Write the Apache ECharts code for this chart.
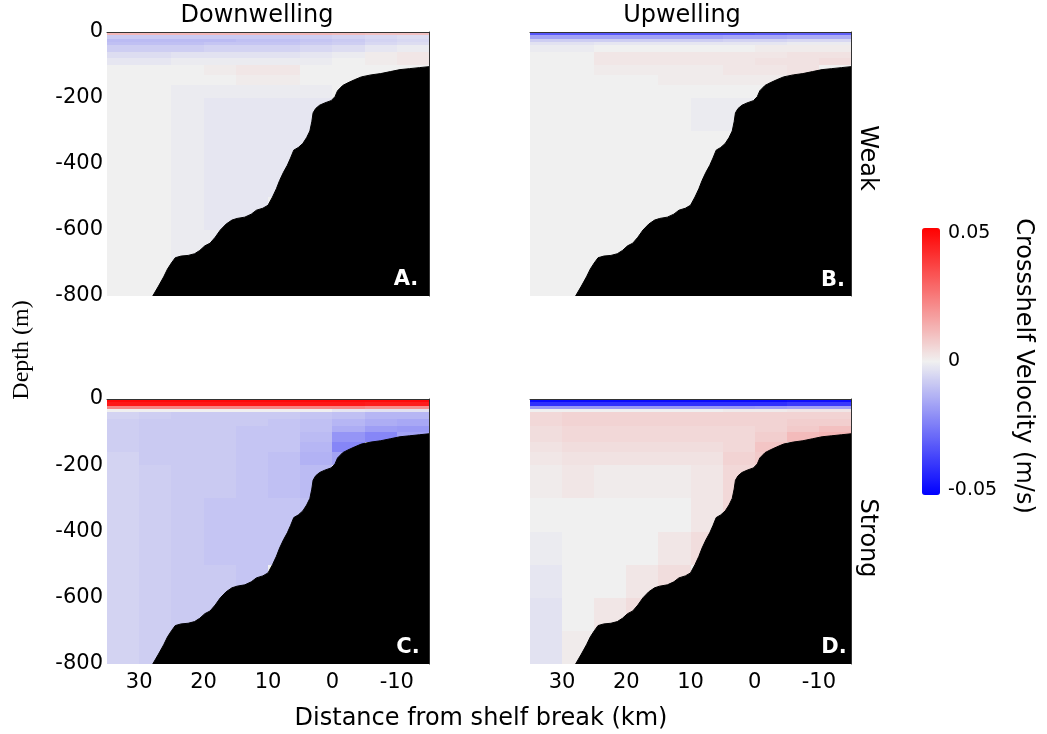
<!DOCTYPE html>
<html>
<head>
<meta charset="utf-8">
<title>Crossshelf velocity</title>
<script src="https://cdn.jsdelivr.net/npm/echarts@6/dist/echarts.min.js"></script>
<style>
  html, body { margin: 0; padding: 0; background: #fff; }
  #chart { width: 1047px; height: 734px; }
</style>
</head>
<body>
<div id="chart"></div>
<script>
// cell edges of the velocity field (km from shelf break, depth in m)
const distEdges = [35, 30, 25, 20, 15, 10, 5, 0, -5, -10, -15]
const depthEdges = [0, -10, -20, -30, -40, -60, -80, -100, -130, -160, -200, -300, -400, -500, -600, -700, -800]

// crossshelf velocity (m/s), one row per depth layer, one column per distance bin
const velWeakDown = [
    [0.012, 0.012, 0.012, 0.012, 0.012, 0.012, 0.012, 0.011, 0.010, 0.010],
    [-0.008, -0.008, -0.008, -0.008, -0.008, -0.008, -0.007, -0.006, -0.005, -0.004],
    [-0.011, -0.011, -0.011, -0.011, -0.010, -0.010, -0.009, -0.008, -0.006, -0.005],
    [-0.010, -0.010, -0.010, -0.009, -0.009, -0.009, -0.008, -0.007, -0.005, -0.004],
    [-0.007, -0.007, -0.007, -0.006, -0.006, -0.006, -0.005, -0.004, -0.002, -0.001],
    [-0.004, -0.004, -0.003, -0.003, -0.003, -0.003, -0.002, -0.001, 0.001, 0.002],
    [-0.002, -0.002, -0.001, -0.001, -0.001, -0.001, -0.001, 0.000, 0.001, 0.002],
    [0.000, 0.000, 0.000, 0.001, 0.002, 0.002, 0.000, 0.000, 0.000, 0.000],
    [0.000, 0.000, 0.000, 0.000, 0.001, 0.001, 0.000, 0.000, 0.000, 0.000],
    [0.000, 0.000, -0.001, -0.001, -0.001, -0.001, -0.001, 0.000, 0.000, 0.000],
    [0.000, 0.000, -0.001, -0.002, -0.002, -0.002, -0.002, 0.000, 0.000, 0.000],
    [0.000, 0.000, -0.001, -0.002, -0.002, -0.002, -0.002, 0.000, 0.000, 0.000],
    [0.000, 0.000, -0.001, -0.002, -0.002, -0.002, 0.000, 0.000, 0.000, 0.000],
    [0.000, 0.000, -0.001, -0.002, -0.002, 0.000, 0.000, 0.000, 0.000, 0.000],
    [0.000, 0.000, -0.001, -0.001, 0.000, 0.000, 0.000, 0.000, 0.000, 0.000],
    [0.000, 0.000, -0.001, 0.000, 0.000, 0.000, 0.000, 0.000, 0.000, 0.000]
]
const velWeakUp = [
    [-0.032, -0.032, -0.032, -0.032, -0.032, -0.032, -0.032, -0.031, -0.030, -0.030],
    [-0.016, -0.016, -0.016, -0.016, -0.016, -0.016, -0.015, -0.015, -0.014, -0.014],
    [-0.007, -0.007, -0.007, -0.007, -0.007, -0.007, -0.006, -0.006, -0.005, -0.005],
    [-0.003, -0.003, -0.002, -0.002, -0.002, -0.002, -0.002, -0.002, -0.001, -0.001],
    [-0.001, -0.001, 0.000, 0.000, 0.000, 0.000, 0.000, 0.001, 0.001, 0.001],
    [0.000, 0.000, 0.002, 0.002, 0.002, 0.002, 0.002, 0.002, 0.003, 0.003],
    [0.000, 0.000, 0.002, 0.002, 0.002, 0.002, 0.002, 0.003, 0.003, 0.004],
    [0.000, 0.000, 0.001, 0.001, 0.001, 0.001, 0.002, 0.002, 0.003, 0.000],
    [0.000, 0.000, 0.000, 0.000, 0.001, 0.001, 0.001, 0.001, 0.000, 0.000],
    [0.000, 0.000, 0.000, 0.000, 0.000, 0.000, 0.000, 0.000, 0.000, 0.000],
    [0.000, 0.000, 0.000, 0.000, 0.000, -0.001, -0.001, 0.000, 0.000, 0.000],
    [0.000, 0.000, 0.000, 0.000, 0.000, 0.000, 0.000, 0.000, 0.000, 0.000],
    [0.000, 0.000, 0.000, 0.000, 0.000, 0.000, 0.000, 0.000, 0.000, 0.000],
    [0.000, 0.000, 0.000, 0.000, 0.000, 0.000, 0.000, 0.000, 0.000, 0.000],
    [0.000, 0.000, 0.000, 0.000, 0.000, 0.000, 0.000, 0.000, 0.000, 0.000],
    [0.000, 0.000, 0.000, 0.000, 0.000, 0.000, 0.000, 0.000, 0.000, 0.000]
]
const velStrongDown = [
    [0.048, 0.048, 0.048, 0.048, 0.048, 0.048, 0.048, 0.048, 0.048, 0.048],
    [0.045, 0.045, 0.045, 0.045, 0.045, 0.045, 0.045, 0.045, 0.044, 0.044],
    [0.022, 0.022, 0.022, 0.022, 0.022, 0.022, 0.022, 0.022, 0.020, 0.020],
    [0.000, 0.000, 0.000, 0.000, 0.000, 0.000, 0.000, -0.002, -0.003, -0.003],
    [-0.006, -0.007, -0.008, -0.008, -0.008, -0.008, -0.009, -0.010, -0.012, -0.012],
    [-0.007, -0.008, -0.008, -0.008, -0.008, -0.009, -0.010, -0.012, -0.014, -0.015],
    [-0.007, -0.008, -0.008, -0.008, -0.009, -0.009, -0.010, -0.014, -0.017, -0.018],
    [-0.007, -0.008, -0.008, -0.008, -0.009, -0.009, -0.011, -0.019, -0.022, -0.016],
    [-0.007, -0.008, -0.008, -0.008, -0.009, -0.009, -0.012, -0.022, 0.000, 0.000],
    [-0.006, -0.008, -0.008, -0.008, -0.009, -0.010, -0.013, -0.016, 0.000, 0.000],
    [-0.006, -0.007, -0.008, -0.008, -0.009, -0.010, -0.011, 0.000, 0.000, 0.000],
    [-0.006, -0.007, -0.008, -0.009, -0.009, -0.009, -0.010, 0.000, 0.000, 0.000],
    [-0.006, -0.007, -0.008, -0.009, -0.009, -0.009, 0.000, 0.000, 0.000, 0.000],
    [-0.006, -0.007, -0.008, -0.008, -0.009, 0.000, 0.000, 0.000, 0.000, 0.000],
    [-0.006, -0.007, -0.008, -0.008, 0.000, 0.000, 0.000, 0.000, 0.000, 0.000],
    [-0.006, -0.007, -0.008, 0.000, 0.000, 0.000, 0.000, 0.000, 0.000, 0.000]
]
const velStrongUp = [
    [-0.048, -0.048, -0.048, -0.048, -0.048, -0.048, -0.048, -0.048, -0.047, -0.047],
    [-0.040, -0.040, -0.040, -0.040, -0.040, -0.040, -0.040, -0.040, -0.038, -0.038],
    [-0.018, -0.018, -0.018, -0.018, -0.018, -0.018, -0.018, -0.017, -0.016, -0.016],
    [0.000, 0.000, 0.000, 0.000, 0.000, 0.000, 0.001, 0.001, 0.002, 0.002],
    [0.005, 0.006, 0.006, 0.006, 0.006, 0.006, 0.006, 0.006, 0.006, 0.006],
    [0.005, 0.006, 0.006, 0.006, 0.006, 0.006, 0.006, 0.006, 0.007, 0.007],
    [0.004, 0.005, 0.005, 0.005, 0.005, 0.005, 0.005, 0.006, 0.008, 0.010],
    [0.004, 0.005, 0.005, 0.005, 0.005, 0.005, 0.005, 0.007, 0.011, 0.012],
    [0.003, 0.004, 0.004, 0.004, 0.004, 0.004, 0.005, 0.009, 0.000, 0.000],
    [0.002, 0.003, 0.003, 0.003, 0.003, 0.003, 0.006, 0.008, 0.000, 0.000],
    [0.001, 0.002, 0.001, 0.001, 0.001, 0.002, 0.005, 0.000, 0.000, 0.000],
    [0.000, 0.000, 0.000, 0.000, 0.000, 0.002, 0.005, 0.000, 0.000, 0.000],
    [-0.001, 0.000, 0.000, 0.000, 0.002, 0.004, 0.000, 0.000, 0.000, 0.000],
    [-0.002, 0.000, 0.000, 0.002, 0.004, 0.000, 0.000, 0.000, 0.000, 0.000],
    [-0.003, 0.000, 0.002, 0.004, 0.000, 0.000, 0.000, 0.000, 0.000, 0.000],
    [-0.003, 0.001, 0.000, 0.000, 0.000, 0.000, 0.000, 0.000, 0.000, 0.000]
]

// bathymetry profile (same in all panels)
const bathyKm = [27.9, 27.0, 26.2, 25.6, 25.0, 24.4, 23.5, 22.4, 21.4, 20.6, 19.8, 19.0, 18.2, 17.4, 16.5, 15.6, 14.8, 13.6, 12.6, 11.8, 10.8, 10.0, 9.3, 8.7, 8.2, 7.6, 7.0, 6.5, 6.0, 5.3, 4.6, 4.0, 3.5, 3.2, 3.0, 2.6, 2.0, 1.2, 0.2, -0.4, -0.8, -1.6, -2.4, -3.4, -4.5, -6.0, -7.5, -9.0, -10.5, -12.0, -13.5, -15.0]
const bathyDepth = [-800, -770, -742, -718, -700, -684, -679, -677, -672, -662, -648, -640, -622, -600, -582, -570, -565, -561, -552, -540, -534, -525, -500, -475, -450, -425, -404, -382, -358, -350, -338, -320, -300, -272, -245, -232, -222, -215, -208, -196, -178, -162, -154, -145, -136, -130, -126, -120, -114, -111, -108, -105]

const xTicks = [30, 20, 10, 0, -10]
const panelTitles = ['Downwelling', 'Upwelling']
const rowTitles = ['Weak', 'Strong']
const panelLetters = ['A.', 'B.', 'C.', 'D.']

const fields = [velWeakDown, velWeakUp, velStrongDown, velStrongUp]
const grids = [
    { left: 107, top: 32, width: 322, height: 264 },
    { left: 530, top: 32, width: 321, height: 264 },
    { left: 107, top: 399, width: 322, height: 265 },
    { left: 530, top: 399, width: 321, height: 265 },
    { left: 922, top: 233, width: 18, height: 257 }
]

const font = 'DejaVu Sans'

const toCells = vals => {
    const cells = []
    vals.forEach((row, r) => {
        row.forEach((v, c) => {
            cells.push([distEdges[c], distEdges[c + 1], depthEdges[r], depthEdges[r + 1], v])
        })
    })
    return cells
}

const renderCell = (params, api) => {
    const p0 = api.coord([api.value(0), api.value(2)])
    const p1 = api.coord([api.value(1), api.value(3)])
    const x0 = Math.round(Math.min(p0[0], p1[0]))
    const x1 = Math.round(Math.max(p0[0], p1[0]))
    const y0 = Math.round(Math.min(p0[1], p1[1]))
    const y1 = Math.round(Math.max(p0[1], p1[1]))
    return {
        type: 'rect',
        shape: { x: x0, y: y0, width: x1 - x0, height: y1 - y0 },
        style: { fill: api.visual('color') }
    }
}

const xAxes = []
const yAxes = []
const series = []
for (let i = 0; i < 4; i++) {
    xAxes.push({
        gridIndex: i, type: 'value', min: -15, max: 35, inverse: true, position: 'bottom',
        axisLine: { show: false, onZero: false }, axisTick: { show: false }, splitLine: { show: false },
        axisLabel: { show: i >= 2, customValues: xTicks, fontSize: 21, fontFamily: font, color: '#000', margin: 8 }
    })
    yAxes.push({
        gridIndex: i, type: 'value', min: -800, max: 0, interval: 200,
        axisLine: { show: false, onZero: false }, axisTick: { show: false }, splitLine: { show: false },
        axisLabel: { show: i % 2 === 0, fontSize: 21, fontFamily: font, color: '#000', margin: 4 }
    })
}
// top / right frame lines
for (let i = 0; i < 4; i++) {
    xAxes.push({
        gridIndex: i, type: 'value', min: -15, max: 35, inverse: true, position: 'top', z: 10,
        axisLine: { show: true, onZero: false, lineStyle: { color: '#333', width: 1 } },
        axisTick: { show: false }, axisLabel: { show: false }, splitLine: { show: false }
    })
    yAxes.push({
        gridIndex: i, type: 'value', min: -800, max: 0, position: 'right', z: 10,
        axisLine: { show: true, onZero: false, lineStyle: { color: '#333', width: 1 } },
        axisTick: { show: false }, axisLabel: { show: false }, splitLine: { show: false }
    })
}
// colorbar tick axis
xAxes.push({ gridIndex: 4, type: 'value', min: 0, max: 1, show: false })
yAxes.push({
    gridIndex: 4, type: 'value', min: -0.05, max: 0.05, interval: 0.05, position: 'right',
    axisLine: { show: false, onZero: false }, axisTick: { show: false }, splitLine: { show: false },
    axisLabel: {
        fontSize: 19, fontFamily: font, color: '#000', margin: 8,
        formatter: v => (Math.abs(v) < 1e-9 ? '0' : v.toFixed(2))
    }
})

for (let i = 0; i < 4; i++) {
    series.push({
        type: 'custom', xAxisIndex: i, yAxisIndex: i, silent: true, z: 2,
        renderItem: renderCell, data: toCells(fields[i])
    })
}
for (let i = 0; i < 4; i++) {
    series.push({
        type: 'line', xAxisIndex: i, yAxisIndex: i, silent: true, z: 3, symbol: 'none',
        lineStyle: { color: '#000', width: 1 },
        areaStyle: { color: '#000', opacity: 1, origin: 'start' },
        data: bathyKm.map((k, j) => [k, bathyDepth[j]])
    })
}

const txt = (text, x, y, size, extra) => Object.assign({
    type: 'text', x: x, y: y, z: 100,
    style: { text: text, font: size + 'px "' + font + '"', fill: '#000', textAlign: 'center', textVerticalAlign: 'middle' }
}, extra || {})

const graphics = [
    txt(panelTitles[0], 257, 16, 24),
    txt(panelTitles[1], 682, 16, 24),
    txt(rowTitles[0], 867, 158, 24, { rotation: -Math.PI / 2 }),
    txt(rowTitles[1], 867, 538, 24, { rotation: -Math.PI / 2 }),
    txt('Distance from shelf break (km)', 481, 719, 24),
    txt('Crossshelf Velocity (m/s)', 1023, 366, 24, { rotation: -Math.PI / 2 }),
    {
        type: 'text', x: 22, y: 350, z: 100, rotation: Math.PI / 2,
        style: { text: 'Depth (m)', font: '24px "Liberation Serif"', fill: '#000', textAlign: 'center', textVerticalAlign: 'middle' }
    }
]
const letterPos = [[406, 280], [833, 281], [408, 648], [834, 648]]
panelLetters.forEach((l, i) => {
    graphics.push({
        type: 'text', x: letterPos[i][0], y: letterPos[i][1], z: 100,
        style: { text: l, font: 'bold 21px "' + font + '"', fill: '#fff', textAlign: 'center', textVerticalAlign: 'middle' }
    })
})

const option = {
    animation: false,
    backgroundColor: '#fff',
    grid: grids,
    xAxis: xAxes,
    yAxis: yAxes,
    visualMap: {
        type: 'continuous', min: -0.05, max: 0.05, dimension: 4, seriesIndex: [0, 1, 2, 3],
        orient: 'vertical', left: 922, top: 228, itemWidth: 18, itemHeight: 267, padding: 0,
        calculable: false, hoverLink: false,
        inRange: { color: ['#0000ff', '#f0f0f0', '#ff0000'] }
    },
    graphic: graphics,
    series: series
}

const myChart = echarts.init(document.getElementById('chart'))
myChart.setOption(option)
</script>
</body>
</html>
